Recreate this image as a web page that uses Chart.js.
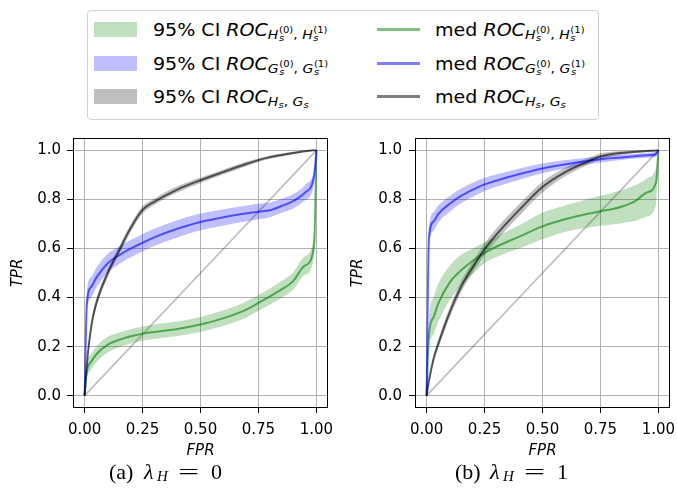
<!DOCTYPE html>
<html>
<head>
<meta charset="utf-8">
<script src="https://cdn.jsdelivr.net/npm/chart.js@4.4.0/dist/chart.umd.min.js"></script>
<style>
  body { margin: 0; background: #fff; width: 677px; height: 493px; position: relative; overflow: hidden; font-family: 'DejaVu Sans', sans-serif; color: #000; }
  canvas { position: absolute; }
  #legend { position: absolute; left: 87px; top: 10px; width: 512px; height: 110px; border: 1px solid #d0d0d0; border-radius: 4px; box-sizing: border-box; }
  .patch { position: absolute; width: 43px; height: 15px; }
  .lline { position: absolute; width: 43px; height: 3px; }
  .txt { position: absolute; font-size: 17px; line-height: 20px; white-space: nowrap; transform-origin: left center; transform: scaleX(1.12); }
  .txt i { font-style: italic; }
  .s1 { font-size: 12.5px; position: relative; top: 3px; }
  .st { display: inline-block; font-size: 9px; line-height: 7.5px; vertical-align: -2px; margin-left: 0.5px; }
  .st span { display: block; }
  .cap { position: absolute; top: 461px; height: 30px; width: 130px; font-family: 'Liberation Serif', serif; font-size: 22px; line-height: 22px; }
  .cap span { position: absolute; top: 0; white-space: nowrap; display: inline-block; }
  .cap .it { font-style: italic; }
  .cap .sb { font-size: 15px; line-height: 15px; top: 8px; font-style: italic; }
  .cap .eq { transform: scaleX(1.7); transform-origin: left center; }
</style>
</head>
<body>
<div id="legend"></div>
<canvas id="chartA" width="340" height="335" style="left:0px;top:128px;width:340px;height:335px"></canvas>
<canvas id="chartB" width="337" height="335" style="left:340px;top:128px;width:337px;height:335px"></canvas>
<div class="cap" style="left:109px"><span style="left:0">(a)</span><span class="it" style="left:35px">λ</span><span class="sb" style="left:48px">H</span><span class="eq" style="left:69px">=</span><span style="left:102px">0</span></div>
<div class="cap" style="left:455px"><span style="left:0">(b)</span><span class="it" style="left:35px">λ</span><span class="sb" style="left:48px">H</span><span class="eq" style="left:69px">=</span><span style="left:102px">1</span></div>
<script>
// shared false positive rate grid
var fpr = [0, 0.01, 0.03, 0.05, 0.1, 0.15, 0.2, 0.25, 0.3, 0.4, 0.5, 0.6, 0.7, 0.75, 0.8, 0.85, 0.9, 0.95, 0.99, 1.0];

// (a) lambda_H = 0
var greenMedA = [0, 0.1, 0.14, 0.168, 0.208, 0.228, 0.242, 0.253, 0.26, 0.272, 0.29, 0.316, 0.352, 0.378, 0.405, 0.433, 0.467, 0.53, 0.61, 1.0];
var greenLoA  = [0, 0.07, 0.108, 0.135, 0.176, 0.198, 0.213, 0.224, 0.231, 0.243, 0.26, 0.285, 0.32, 0.346, 0.372, 0.399, 0.432, 0.492, 0.565, 1.0];
var greenHiA  = [0, 0.13, 0.172, 0.2, 0.24, 0.258, 0.271, 0.282, 0.29, 0.302, 0.321, 0.348, 0.385, 0.41, 0.438, 0.467, 0.503, 0.568, 0.655, 1.0];
var blueMedA  = [0, 0.38, 0.445, 0.48, 0.54, 0.573, 0.6, 0.623, 0.645, 0.68, 0.708, 0.727, 0.743, 0.75, 0.756, 0.773, 0.793, 0.827, 0.895, 1.0];
var blueLoA   = [0, 0.335, 0.402, 0.44, 0.502, 0.537, 0.565, 0.588, 0.61, 0.645, 0.674, 0.694, 0.711, 0.719, 0.727, 0.745, 0.763, 0.795, 0.865, 1.0];
var blueHiA   = [0, 0.425, 0.486, 0.52, 0.578, 0.609, 0.635, 0.658, 0.68, 0.715, 0.742, 0.76, 0.775, 0.782, 0.787, 0.802, 0.822, 0.858, 0.922, 1.0];
var grayMedA  = [0, 0.13, 0.29, 0.375, 0.5, 0.594, 0.685, 0.757, 0.79, 0.84, 0.878, 0.912, 0.945, 0.96, 0.972, 0.981, 0.989, 0.996, 1.0, 1.0];
var grayLoA   = [0, 0.115, 0.272, 0.358, 0.484, 0.578, 0.669, 0.742, 0.777, 0.828, 0.867, 0.902, 0.936, 0.952, 0.965, 0.975, 0.984, 0.993, 0.998, 1.0];
var grayHiA   = [0, 0.145, 0.308, 0.392, 0.516, 0.61, 0.701, 0.772, 0.803, 0.853, 0.889, 0.922, 0.954, 0.968, 0.979, 0.987, 0.994, 0.999, 1.0, 1.0];

// (b) lambda_H = 1
var greenMedB = [0, 0.25, 0.32, 0.375, 0.462, 0.512, 0.55, 0.582, 0.607, 0.648, 0.69, 0.72, 0.742, 0.752, 0.76, 0.773, 0.793, 0.828, 0.87, 1.0];
var greenLoB  = [0, 0.19, 0.25, 0.3, 0.39, 0.45, 0.497, 0.54, 0.565, 0.6, 0.637, 0.668, 0.685, 0.692, 0.698, 0.705, 0.712, 0.73, 0.78, 1.0];
var greenHiB  = [0, 0.31, 0.4, 0.455, 0.53, 0.575, 0.6, 0.625, 0.648, 0.695, 0.745, 0.776, 0.803, 0.815, 0.826, 0.84, 0.857, 0.885, 0.93, 1.0];
var blueMedB  = [0, 0.64, 0.71, 0.74, 0.782, 0.815, 0.84, 0.861, 0.876, 0.903, 0.926, 0.943, 0.957, 0.963, 0.968, 0.972, 0.976, 0.98, 0.984, 1.0];
var blueLoB   = [0, 0.6, 0.672, 0.705, 0.75, 0.785, 0.811, 0.834, 0.851, 0.88, 0.906, 0.926, 0.943, 0.95, 0.956, 0.961, 0.966, 0.97, 0.974, 1.0];
var blueHiB   = [0, 0.68, 0.748, 0.775, 0.814, 0.845, 0.869, 0.888, 0.901, 0.926, 0.946, 0.96, 0.971, 0.976, 0.98, 0.983, 0.986, 0.99, 0.994, 1.0];
var grayMedB  = [0, 0.06, 0.15, 0.21, 0.34, 0.446, 0.525, 0.596, 0.655, 0.757, 0.85, 0.912, 0.956, 0.975, 0.985, 0.99, 0.994, 0.997, 0.999, 1.0];
var grayLoB   = [0, 0.05, 0.135, 0.193, 0.32, 0.424, 0.502, 0.572, 0.63, 0.733, 0.828, 0.895, 0.943, 0.963, 0.975, 0.983, 0.989, 0.993, 0.997, 1.0];
var grayHiB   = [0, 0.07, 0.165, 0.227, 0.36, 0.468, 0.548, 0.62, 0.68, 0.781, 0.872, 0.93, 0.97, 0.987, 0.994, 0.997, 0.999, 1.0, 1.0, 1.0];

var diagX = [0, 1];
var diagY = [0, 1];
var xTicks = [0, 0.25, 0.5, 0.75, 1.0];
var yTicks = [0, 0.2, 0.4, 0.6, 0.8, 1.0];

var GREEN = '0,128,0', BLUE = '0,0,255', GRAY = '0,0,0';

function pts(xs, ys) {
    return xs.map(function (x, i) { return {x: x, y: ys[i]}; });
}

function band(lo, hi, rgb) {
    return [
        {data: pts(fpr, lo), borderWidth: 0, borderColor: 'rgba(0,0,0,0)', fill: false, order: 3},
        {data: pts(fpr, hi), borderWidth: 0, borderColor: 'rgba(0,0,0,0)', fill: '-1', backgroundColor: 'rgba(' + rgb + ',0.25)', order: 3}
    ];
}

function med(ys, rgb, order) {
    return {data: pts(fpr, ys), borderColor: 'rgba(' + rgb + ',0.6)', borderWidth: 2, fill: false, order: order};
}

// draws the full black box around the plot area
var frame = {
    id: 'frame',
    afterDraw: function (chart) {
        var a = chart.chartArea, ctx = chart.ctx;
        ctx.save();
        ctx.strokeStyle = '#000';
        ctx.lineWidth = 1;
        ctx.strokeRect(Math.round(a.left) + 0.5, Math.round(a.top) + 0.5, Math.round(a.right - a.left) - 1, Math.round(a.bottom - a.top) - 1);
        ctx.restore();
    }
};

function makeChart(id, sets, padRight, yWidth, yPad) {
    var datasets = [{data: pts(diagX, diagY), borderColor: 'rgba(0,0,0,0.25)', borderWidth: 1.8, fill: false, order: 4}]
        .concat(band(sets.gLo, sets.gHi, GREEN))
        .concat(band(sets.bLo, sets.bHi, BLUE))
        .concat(band(sets.kLo, sets.kHi, GRAY))
        .concat([med(sets.g, GREEN, 2), med(sets.b, BLUE, 1), med(sets.k, GRAY, 0)]);

    return new Chart(document.getElementById(id), {
        type: 'line',
        data: {datasets: datasets},
        plugins: [frame],
        options: {
            responsive: false,
            animation: false,
            events: [],
            layout: {padding: {left: 0, right: padRight, top: 10, bottom: 0}},
            elements: {
                point: {radius: 0},
                line: {cubicInterpolationMode: 'monotone'}
            },
            plugins: {legend: {display: false}, tooltip: {enabled: false}},
            scales: {
                x: {
                    type: 'linear', min: -0.05, max: 1.05,
                    afterBuildTicks: function (s) { s.ticks = xTicks.map(function (v) { return {value: v}; }); },
                    afterFit: function (s) { s.height = 55; s.paddingLeft = 0; s.paddingRight = 0; },
                    grid: {color: '#b0b0b0', lineWidth: 1, tickColor: '#000', tickLength: 5},
                    border: {display: false},
                    ticks: {color: '#000', font: {family: 'DejaVu Sans', size: 15}, padding: 8, maxRotation: 0,
                        callback: function (v) { return v.toFixed(2); }},
                    title: {display: true, text: 'FPR', color: '#000', font: {family: 'DejaVu Sans', size: 15, style: 'italic'}, padding: {top: 0, bottom: 3}}
                },
                y: {
                    type: 'linear', min: -0.05, max: 1.05,
                    afterBuildTicks: function (s) { s.ticks = yTicks.map(function (v) { return {value: v}; }); },
                    afterFit: function (s) { s.width = yWidth; s.paddingTop = 0; s.paddingBottom = 0; },
                    grid: {color: '#b0b0b0', lineWidth: 1, tickColor: '#000', tickLength: 6},
                    border: {display: false},
                    ticks: {color: '#000', font: {family: 'DejaVu Sans', size: 15}, padding: yPad,
                        callback: function (v) { return v.toFixed(1); }},
                    title: {display: true, text: 'TPR', color: '#000', font: {family: 'DejaVu Sans', size: 15, style: 'italic'}, padding: {top: 9, bottom: 0}}
                }
            }
        }
    });
}

makeChart('chartA', {g: greenMedA, gLo: greenLoA, gHi: greenHiA, b: blueMedA, bLo: blueLoA, bHi: blueHiA, k: grayMedA, kLo: grayLoA, kHi: grayHiA}, 12, 73, 6);
makeChart('chartB', {g: greenMedB, gLo: greenLoB, gHi: greenHiB, b: blueMedB, bLo: blueLoB, bHi: blueHiB, k: grayMedB, kLo: grayLoB, kHi: grayHiB}, 7, 75, 7);

// legend with math-style labels
function stack(sup) {
    return '<span class="st"><span>' + sup + '</span><span><i>s</i></span></span>';
}
var subHH = '<span class="s1"><i>H</i>' + stack('(0)') + ', <i>H</i>' + stack('(1)') + '</span>';
var subGG = '<span class="s1"><i>G</i>' + stack('(0)') + ', <i>G</i>' + stack('(1)') + '</span>';
var subHG = '<span class="s1"><i>H</i><span style="font-size:9px;position:relative;top:2px"><i>s</i></span>, <i>G</i><span style="font-size:9px;position:relative;top:2px"><i>s</i></span></span>';
var legendSubs = [subHH, subGG, subHG];
var legendColors = [GREEN, BLUE, GRAY];
var rowY = [29.5, 63.5, 96.5];

var html = '';
for (var i = 0; i < 3; i++) {
    var c = legendColors[i];
    html += '<div class="patch" style="left:94px;top:' + (rowY[i] - 7.5) + 'px;background:rgba(' + c + ',0.25)"></div>';
    html += '<div class="txt" style="left:153px;top:' + (rowY[i] - 10) + 'px">95% CI <i>ROC</i>' + legendSubs[i] + '</div>';
    html += '<div class="lline" style="left:377px;top:' + (rowY[i] - 1.5) + 'px;background:rgba(' + c + ',0.5)"></div>';
    html += '<div class="txt" style="left:435px;top:' + (rowY[i] - 10) + 'px">med <i>ROC</i>' + legendSubs[i] + '</div>';
}
document.body.insertAdjacentHTML('beforeend', html);
</script>
</body>
</html>
